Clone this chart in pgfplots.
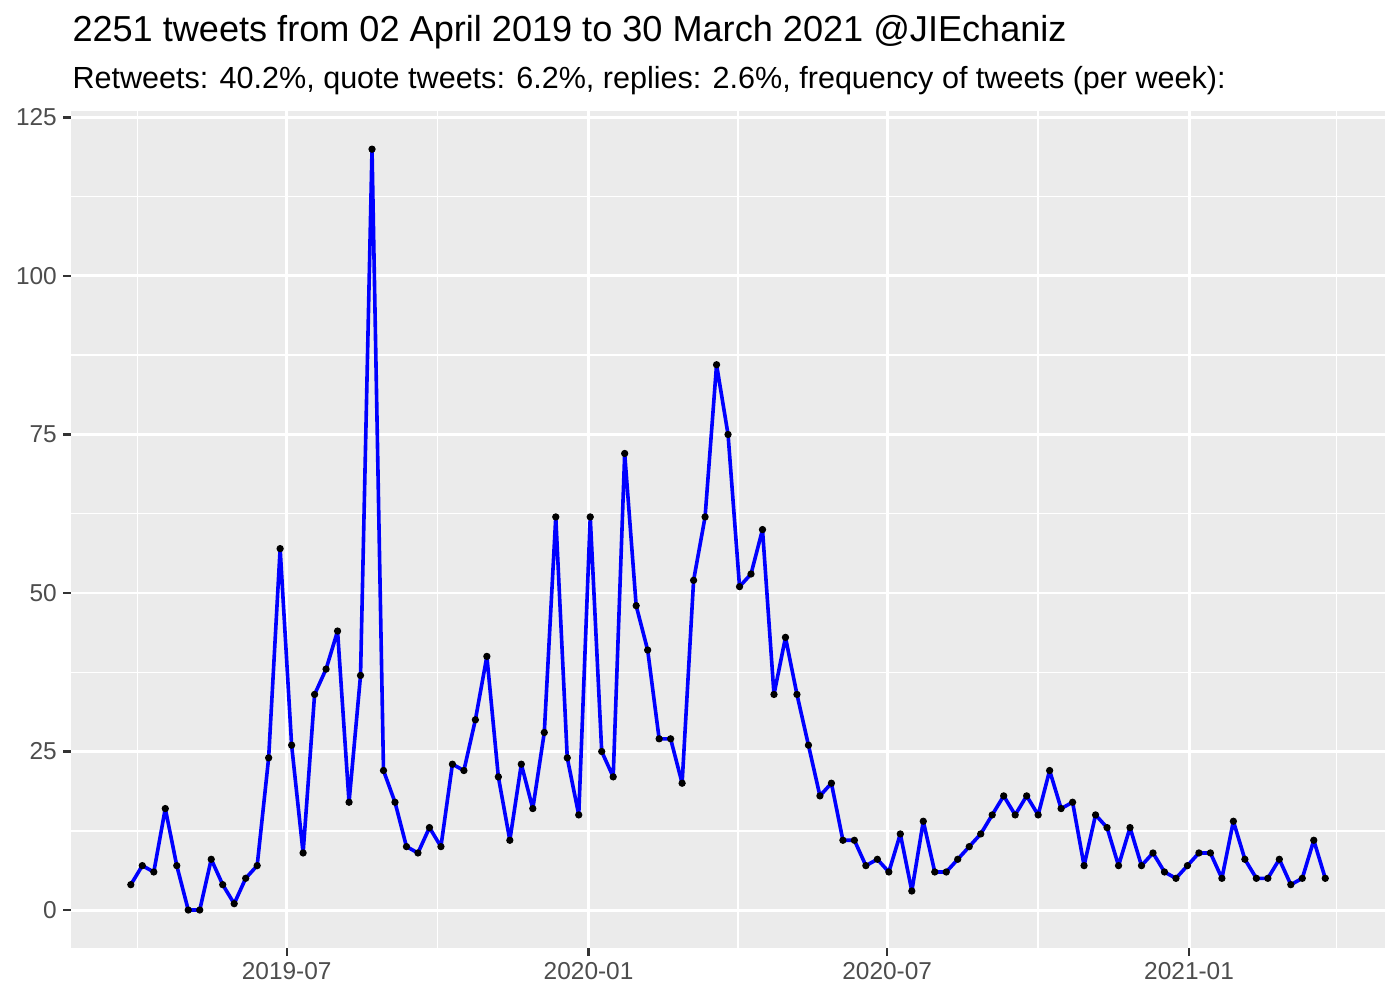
\documentclass[border=0pt]{standalone}
\usepackage{pgfplots}
\pgfplotsset{compat=1.18}
\usepackage{pgfplotstable}
\usepackage{fontspec}
\setmainfont{Liberation Sans}

\definecolor{panelgrey}{HTML}{EBEBEB}
\definecolor{tickgrey}{HTML}{333333}
\definecolor{labelgrey}{HTML}{4D4D4D}

% weekly counts, x = days from 2019-07-01
\pgfplotstableread{
x y
-95 4
-88 7
-81 6
-74 16
-67 7
-60 0
-53 0
-46 8
-39 4
-32 1
-25 5
-18 7
-11 24
-4 57
3 26
10 9
17 34
24 38
31 44
38 17
45 37
52 120
59 22
66 17
73 10
80 9
87 13
94 10
101 23
108 22
115 30
122 40
129 21
136 11
143 23
150 16
157 28
164 62
171 24
178 15
185 62
192 25
199 21
206 72
213 48
220 41
227 27
234 27
241 20
248 52
255 62
262 86
269 75
276 51
283 53
290 60
297 34
304 43
311 34
318 26
325 18
332 20
339 11
346 11
353 7
360 8
367 6
374 12
381 3
388 14
395 6
402 6
409 8
416 10
423 12
430 15
437 18
444 15
451 18
458 15
465 22
472 16
479 17
486 7
493 15
500 13
507 7
514 13
521 7
528 9
535 6
542 5
549 7
556 9
563 9
570 5
577 14
584 8
591 5
598 5
605 8
612 4
619 5
626 11
633 5
}\weekly

\begin{document}
\begin{tikzpicture}
\useasboundingbox (0,0) rectangle (504pt,360pt);
\node[anchor=base west, inner sep=0pt, font=\fontsize{13}{16}\selectfont] at (25.9pt,345pt)
  {2251 tweets from 02 April 2019 to 30 March 2021 @JIEchaniz};
\node[anchor=base west, inner sep=0pt, font=\fontsize{11}{13}\selectfont] at (25.9pt,328.3pt)
  {Retweets: 40.2\%, quote tweets: 6.2\%, replies: 2.6\%, frequency of tweets (per week):};
\begin{axis}[
    at={(25.6pt,18.7pt)}, anchor=south west,
    width=473pt, height=301.3pt, scale only axis,
    xmin=-131.4, xmax=669.4,
    ymin=-6, ymax=126,
    axis background/.style={fill=panelgrey},
    axis line style={draw=none},
    grid=both,
    major grid style={white, line width=1.07pt},
    minor grid style={white, line width=0.53pt},
    xtick={0,184,366,550},
    xticklabels={2019-07,2020-01,2020-07,2021-01},
    minor xtick={-91,92,275,458,640},
    ytick={0,25,50,75,100,125},
    minor ytick={12.5,37.5,62.5,87.5,112.5},
    tick align=outside,
    major tick length=2.75pt,
    minor tick length=0pt,
    tick pos=left,
    tick style={color=tickgrey, line width=0.8pt},
    ticklabel style={font=\fontsize{8.8}{10}\selectfont, text=labelgrey, inner sep=0pt},
    xticklabel style={yshift=-2.2pt},
    yticklabel style={xshift=-2.2pt},
    /pgf/number format/assume math mode=true,
]
\addplot[only marks, mark=*, mark size=1.1pt, black] table[x=x, y=y] {\weekly};
\addplot[blue, line width=1.3pt, line join=round, line cap=round, no markers] table[x=x, y=y] {\weekly};
\end{axis}
\end{tikzpicture}
\end{document}
